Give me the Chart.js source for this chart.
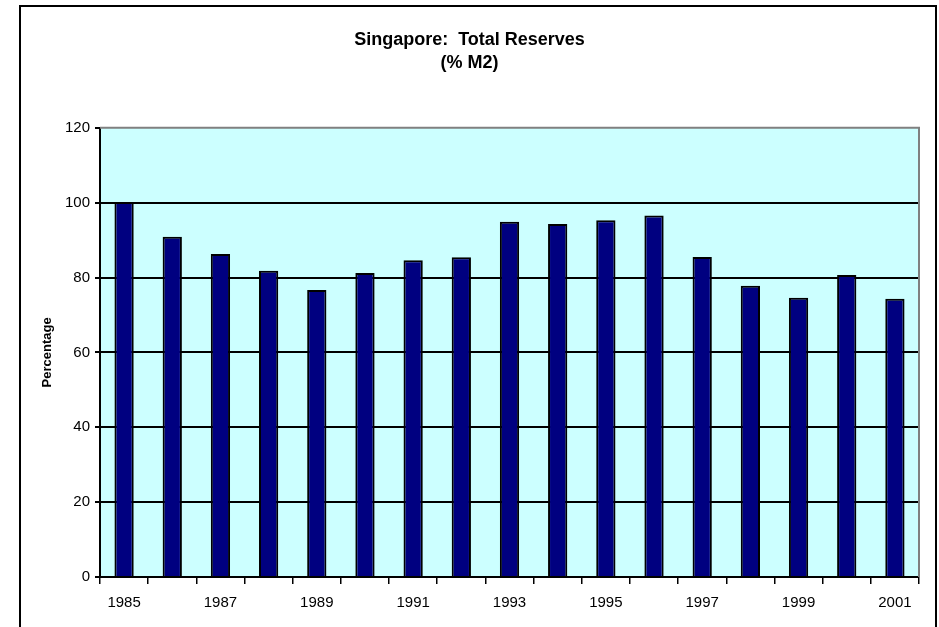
<!DOCTYPE html>
<html>
<head>
<meta charset="utf-8">
<script src="https://cdn.jsdelivr.net/npm/chart.js@4"></script>
<style>
  html, body { margin: 0; padding: 0; background: #ffffff; }
  #wrap { position: relative; width: 939px; height: 627px; overflow: hidden; }
  #frame { position: absolute; left: 19px; top: 5px; width: 918px; height: 700px; border: 2px solid #000; box-sizing: border-box; pointer-events: none; }
  canvas { position: absolute; left: 0; top: 0; }
</style>
</head>
<body>
<div id="wrap">
  <canvas id="c" width="939" height="627"></canvas>
  <div id="frame"></div>
</div>
<script>
const years = ["1985","1986","1987","1988","1989","1990","1991","1992","1993","1994","1995","1996","1997","1998","1999","2000","2001"];
const reservesPctM2 = [100.2, 90.9, 86.3, 81.8, 76.7, 81.2, 84.6, 85.4, 94.9, 94.3, 95.3, 96.6, 85.5, 77.8, 74.6, 80.7, 74.3];
const yTicks = [0, 20, 40, 60, 80, 100, 120];
const titleLines = ["Singapore:  Total Reserves", "(% M2)"];
const yAxisTitle = "Percentage";

const plotBg = {
  id: 'plotBg',
  beforeDraw(chart) {
    const {ctx, chartArea: a} = chart;
    ctx.save();
    ctx.fillStyle = '#ffffff';
    ctx.fillRect(0, 0, chart.width, chart.height);
    ctx.fillStyle = '#CCFFFF';
    ctx.fillRect(a.left, a.top, a.right - a.left, a.bottom - a.top);
    ctx.restore();
  },
  afterDraw(chart) {
    const {ctx, chartArea: a} = chart;
    ctx.save();
    ctx.strokeStyle = '#808080';
    ctx.lineWidth = 2;
    ctx.beginPath();
    ctx.moveTo(a.left, a.top);
    ctx.lineTo(a.right, a.top);
    ctx.lineTo(a.right, a.bottom);
    ctx.stroke();
    ctx.restore();
  }
};

new Chart(document.getElementById('c'), {
  type: 'bar',
  data: {
    labels: years,
    datasets: [{
      data: reservesPctM2,
      backgroundColor: '#000080',
      borderColor: '#000000',
      borderWidth: 2,
      barPercentage: 0.40,
      categoryPercentage: 1.0
    }]
  },
  options: {
    responsive: false,
    animation: false,
    devicePixelRatio: 1,
    layout: { padding: { left: 20, right: 20, top: 0, bottom: 0 } },
    plugins: {
      legend: { display: false },
      tooltip: { enabled: false },
      title: {
        display: true,
        text: titleLines,
        color: '#000',
        font: { family: 'Liberation Sans, Arial, sans-serif', size: 18, weight: 'bold', lineHeight: 1.3 },
        padding: { top: 28, bottom: 53 }
      }
    },
    scales: {
      x: {
        type: 'category',
        offset: true,
        grid: { display: true, offset: true, drawOnChartArea: false, drawTicks: true, tickLength: 7, color: '#000', lineWidth: 1.5 },
        border: { display: true, color: '#000', width: 2 },
        ticks: {
          autoSkip: false, maxRotation: 0, padding: 10, color: '#000',
          font: { family: 'Liberation Sans, Arial, sans-serif', size: 15 },
          callback: function(v, i) { return i % 2 === 0 ? years[i] : ''; }
        },
        afterFit(scale) { scale.height = 50; }
      },
      y: {
        min: 0, max: 120,
        afterBuildTicks(scale) { scale.ticks = yTicks.map(v => ({ value: v })); },
        grid: {
          color: (c) => (c.tick && c.tick.value === 120) ? 'rgba(0,0,0,0)' : '#000',
          tickColor: '#000',
          lineWidth: 2, tickLength: 5, drawTicks: true
        },
        border: { display: true, color: '#000', width: 2 },
        ticks: { padding: 5, color: '#000', font: { family: 'Liberation Sans, Arial, sans-serif', size: 15 } },
        title: {
          display: true, text: yAxisTitle, color: '#000',
          font: { family: 'Liberation Sans, Arial, sans-serif', size: 13, weight: 'bold' },
          padding: { top: 20, bottom: 0 }
        },
        afterFit(scale) { scale.width = 80; }
      }
    }
  },
  plugins: [plotBg]
});
</script>
</body>
</html>
